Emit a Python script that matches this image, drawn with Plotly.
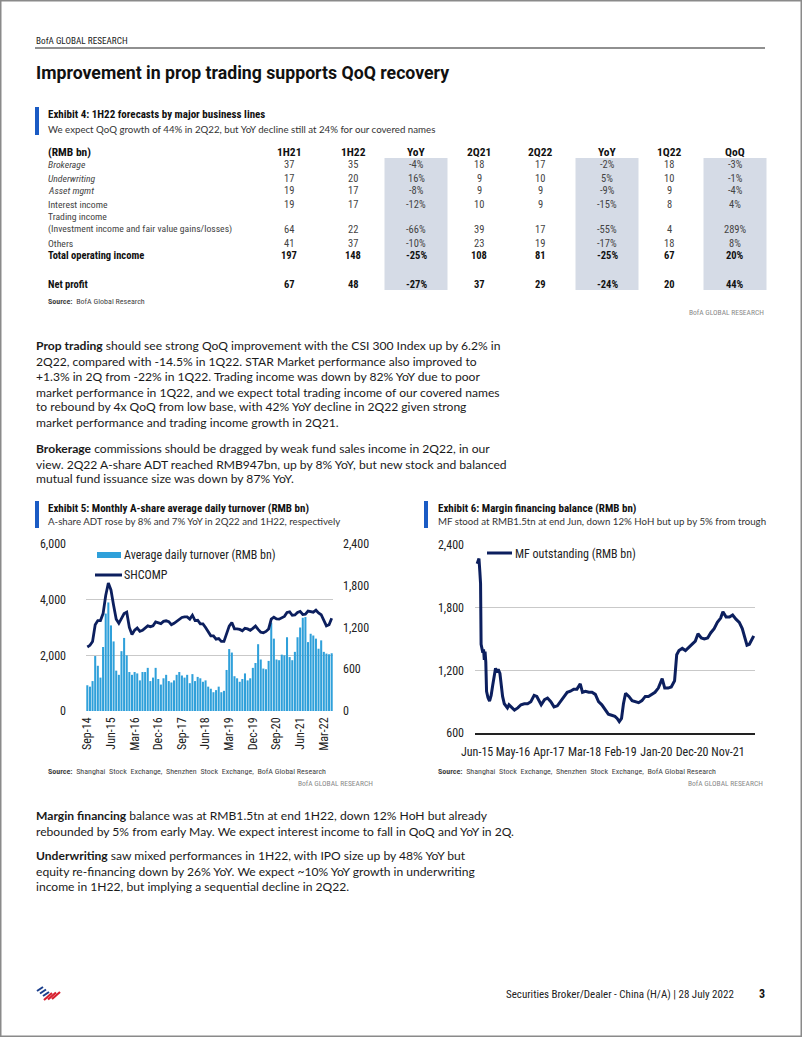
import plotly.graph_objects as go
import pandas as pd

W, H = 802, 1037

# ---------------- DATA ----------------
# Exhibit 4 table
row_labels = ["Brokerage", "Underwriting", "Asset mgmt", "Interest income", "Trading income",
              "(Investment income and fair value gains/losses)", "Others",
              "Total operating income", "Net profit"]
col_headers = ["1H21", "1H22", "YoY", "2Q21", "2Q22", "YoY", "1Q22", "QoQ"]
h1_21 = ["37", "17", "19", "19", "", "64", "41", "197", "67"]
h1_22 = ["35", "20", "17", "17", "", "22", "37", "148", "48"]
yoy_h = ["-4%", "16%", "-8%", "-12%", "", "-66%", "-10%", "-25%", "-27%"]
q2_21 = ["18", "9", "9", "10", "", "39", "23", "108", "37"]
q2_22 = ["17", "10", "9", "9", "", "17", "19", "81", "29"]
yoy_q = ["-2%", "5%", "-9%", "-15%", "", "-55%", "-17%", "-25%", "-24%"]
q1_22 = ["18", "10", "9", "8", "", "4", "18", "67", "20"]
qoq = ["-3%", "-1%", "-4%", "4%", "", "289%", "8%", "20%", "44%"]

# Exhibit 5: monthly A-share ADT (RMB bn, right axis) and SHCOMP (left axis), Sep-14 .. Jun-22
months = list(pd.date_range("2014-09-01", periods=94, freq="MS").strftime("%b-%y"))
adt = [370, 350, 430, 790, 650, 480, 920, 1400, 1560, 1230,
       1000, 580, 520, 860, 1050, 800, 560, 520, 560, 540,
       440, 560, 560, 620, 430, 480, 620, 460, 380, 470,
       520, 430, 410, 440, 520, 560, 510, 480, 520, 400,
       530, 430, 490, 470, 420, 440, 350, 320, 270, 300,
       350, 270, 290, 590, 890, 840, 500, 470, 420, 460,
       540, 440, 470, 620, 690, 960, 740, 610, 600, 720,
       1270, 1040, 740, 730, 810, 800, 1060, 775, 730, 850,
       1060, 1200, 1340, 1350, 990, 1110, 1085, 1040, 895, 1015,
       850, 825, 815, 830]
shcomp = [2300, 2360, 2500, 3100, 3250, 3250, 3500, 4150, 4600, 4350,
          3800, 3300, 3150, 3300, 3500, 3550, 3000, 2750, 2900, 2980,
          2860, 2900, 2990, 3060, 3030, 3060, 3200, 3180, 3140, 3220,
          3240, 3210, 3100, 3150, 3230, 3280, 3360, 3380, 3380, 3300,
          3440, 3250, 3260, 3130, 3130, 3000, 2830, 2700, 2700, 2580,
          2600, 2500, 2500, 2740, 3050, 3180, 2950, 2950, 2930, 2880,
          2970, 2950, 2900, 2970, 3050, 2930, 2830, 2810, 2860, 2950,
          3300, 3370, 3310, 3300, 3360, 3400, 3540, 3560, 3440, 3450,
          3540, 3580, 3470, 3480, 3590, 3560, 3550, 3620, 3520, 3460,
          3250, 3060, 3100, 3330]

# Exhibit 6: margin financing outstanding (RMB bn)
mf_dates = ["2015-06-01", "2015-06-18", "2015-06-26", "2015-07-03", "2015-07-08", "2015-07-15",
            "2015-07-24", "2015-07-31", "2015-08-07", "2015-08-14", "2015-08-21", "2015-08-28",
            "2015-09-10", "2015-09-25", "2015-10-10", "2015-10-25", "2015-11-10", "2015-11-20",
            "2015-12-01", "2015-12-15", "2015-12-31", "2016-01-10", "2016-01-25", "2016-02-10",
            "2016-02-25", "2016-03-10", "2016-03-25", "2016-04-15", "2016-05-15", "2016-06-15",
            "2016-07-15", "2016-08-15", "2016-09-15", "2016-10-15", "2016-11-15", "2016-12-10",
            "2016-12-31", "2017-01-20", "2017-02-20", "2017-03-20", "2017-04-20", "2017-05-20",
            "2017-06-20", "2017-07-20", "2017-08-20", "2017-09-20", "2017-10-20", "2017-11-20",
            "2017-12-20", "2018-01-20", "2018-02-10", "2018-03-10", "2018-04-10", "2018-05-10",
            "2018-06-10", "2018-07-10", "2018-08-10", "2018-09-10", "2018-10-10", "2018-11-10",
            "2018-12-10", "2018-12-31", "2019-01-20", "2019-02-10", "2019-02-28", "2019-03-20",
            "2019-04-20", "2019-05-20", "2019-06-20", "2019-07-20", "2019-08-20", "2019-09-20",
            "2019-10-20", "2019-11-20", "2019-12-20", "2020-01-20", "2020-02-25", "2020-03-20",
            "2020-04-20", "2020-05-20", "2020-06-20", "2020-07-10", "2020-07-31", "2020-08-31",
            "2020-09-30", "2020-10-31", "2020-11-30", "2020-12-31", "2021-01-25", "2021-02-25",
            "2021-03-25", "2021-04-25", "2021-05-25", "2021-06-25", "2021-07-25", "2021-08-25",
            "2021-09-15", "2021-10-15", "2021-11-15", "2021-12-15", "2022-01-15", "2022-02-15",
            "2022-03-15", "2022-04-15", "2022-04-28", "2022-05-20", "2022-06-15", "2022-06-30"]
mf_values = [2220, 2270, 2150, 2030, 1450, 1420,
             1370, 1400, 1300, 1380, 1280, 1000,
             940, 905, 960, 1060, 1180, 1220,
             1180, 1210, 1170, 1060, 950, 880,
             860, 840, 870, 850, 820, 840,
             870, 880, 880, 900, 960, 950,
             900, 870, 920, 935, 900, 850,
             860, 900, 950, 990, 1000, 1020,
             1020, 1070, 990, 1000, 990, 990,
             970, 900, 870, 830, 780, 770,
             760, 740, 710, 740, 880, 980,
             950, 910, 900, 890, 910, 950,
             950, 970, 990, 1030, 1120, 1030,
             1030, 1040, 1100, 1350, 1390, 1410,
             1390, 1420, 1450, 1480, 1550, 1510,
             1500, 1510, 1560, 1600, 1660, 1700,
             1760, 1710, 1710, 1730, 1690, 1660,
             1600, 1500, 1440, 1450, 1500, 1530]
mf_ticks = ["2015-06-01", "2016-05-01", "2017-04-01", "2018-03-01",
            "2019-02-01", "2020-01-01", "2020-12-01", "2021-11-01"]
mf_ticktext = ["Jun-15", "May-16", "Apr-17", "Mar-18", "Feb-19", "Jan-20", "Dec-20", "Nov-21"]

# ---------------- STYLE HELPERS ----------------
NARROW = "'Liberation Sans Narrow', 'Arial Narrow', 'Roboto Condensed', Roboto, sans-serif"
BODY = "Lato, 'Open Sans', sans-serif"
TITLEF = "Roboto, sans-serif"
BLUE = "#1a5bc4"
NAVY = "#0c1f5e"
BARC = "#2fa0da"
GRID = "#c9c9c9"


def px(x):
    return x / W


def py(y):
    return 1 - y / H


annotations = []
shapes = []


def text(x, y, s, size, color="#222", family=BODY, anchor="left"):
    annotations.append(dict(x=px(x), y=py(y), xref="paper", yref="paper", text=s,
                            showarrow=False, xanchor=anchor, yanchor="middle",
                            borderpad=0, font=dict(size=size, color=color, family=family)))


def rect(x0, y0, x1, y1, color):
    shapes.append(dict(type="rect", xref="paper", yref="paper", x0=px(x0), x1=px(x1),
                       y0=py(y1), y1=py(y0), fillcolor=color, line=dict(width=0), layer="below"))


def hline(x0, x1, y, color, width):
    shapes.append(dict(type="line", xref="paper", yref="paper", x0=px(x0), x1=px(x1),
                       y0=py(y), y1=py(y), line=dict(color=color, width=width)))


def seg(x0, y0, x1, y1, color, width):
    shapes.append(dict(type="line", xref="paper", yref="paper", x0=px(x0), x1=px(x1),
                       y0=py(y0), y1=py(y1), line=dict(color=color, width=width)))


# ---------------- PAGE HEADER ----------------
text(35, 41, "BofA GLOBAL RESEARCH", 9.2, "#222", NARROW)
hline(35, 765, 48, "#222", 1.2)
text(35, 73, "<b>Improvement in prop trading supports QoQ recovery</b>", 17.7, "#111", TITLEF)

# ---------------- EXHIBIT 4 TABLE ----------------
rect(35, 107, 39, 135, BLUE)
text(47, 115, "<b>Exhibit 4: 1H22 forecasts by major business lines</b>", 11, "#111", NARROW)
text(47, 129, "We expect QoQ growth of 44% in 2Q22, but YoY decline still at 24% for our covered names",
     9.7, "#333", BODY)

col_x = [289, 353, 416, 479, 540, 607, 669, 735]
band_cols = [2, 5, 7]
for c in band_cols:
    rect(col_x[c] - 31.5, 158, col_x[c] + 31.5, 290, "#d5dbe6")

header_y = 152
text(47, header_y, "<b>(RMB bn)</b>", 11.5, "#111", NARROW)
for cx, h in zip(col_x, col_headers):
    text(cx, header_y, "<b>" + h + "</b>", 11.5, "#111", NARROW, "center")

row_y = [165, 178, 190, 204, 217, 229, 243, 256, 284]
columns = [h1_21, h1_22, yoy_h, q2_21, q2_22, yoy_q, q1_22, qoq]
for i, lab in enumerate(row_labels):
    bold = i >= 7
    italic = i <= 2
    col = "#111" if bold else "#444"
    s = lab
    if italic:
        s = "<i>" + s + "</i>"
    if bold:
        s = "<b>" + s + "</b>"
    text(47, row_y[i], s, 10.5 if bold else 9.7, col, NARROW)
    for cx, colvals in zip(col_x, columns):
        v = colvals[i]
        if v == "":
            continue
        vs = "<b>" + v + "</b>" if bold else v
        text(cx, row_y[i], vs, 10.5, col, NARROW, "center")

text(47, 301, "<b>Source:</b>  BofA Global Research", 8, "#444", NARROW)
text(765, 312, "BofA GLOBAL RESEARCH", 7.5, "#8a8a8a", NARROW, "right")

# ---------------- BODY PARAGRAPHS ----------------
p1 = ["<b>Prop trading</b> should see strong QoQ improvement with the CSI 300 Index up by 6.2% in",
      "2Q22, compared with -14.5% in 1Q22. STAR Market performance also improved to",
      "+1.3% in 2Q from -22% in 1Q22. Trading income was down by 82% YoY due to poor",
      "market performance in 1Q22, and we expect total trading income of our covered names",
      "to rebound by 4x QoQ from low base, with 42% YoY decline in 2Q22 given strong",
      "market performance and trading income growth in 2Q21."]
p1_y = [345, 361, 376, 392, 407, 423]
p2 = ["<b>Brokerage</b> commissions should be dragged by weak fund sales income in 2Q22, in our",
      "view. 2Q22 A-share ADT reached RMB947bn, up by 8% YoY, but new stock and balanced",
      "mutual fund issuance size was down by 87% YoY."]
p2_y = [448, 464, 479]
p3 = ["<b>Margin financing</b> balance was at RMB1.5tn at end 1H22, down 12% HoH but already",
      "rebounded by 5% from early May. We expect interest income to fall in QoQ and YoY in 2Q."]
p3_y = [815, 831]
p4 = ["<b>Underwriting</b> saw mixed performances in 1H22, with IPO size up by 48% YoY but",
      "equity re-financing down by 26% YoY. We expect ~10% YoY growth in underwriting",
      "income in 1H22, but implying a sequential decline in 2Q22."]
p4_y = [855, 871, 886]
for lines, ys in [(p1, p1_y), (p2, p2_y), (p3, p3_y), (p4, p4_y)]:
    for s, y in zip(lines, ys):
        text(35, y, s, 12.1, "#1a1a1a", BODY)

# ---------------- EXHIBIT 5 / 6 HEADERS ----------------
rect(35, 501, 39, 528, BLUE)
text(47, 508, "<b>Exhibit 5: Monthly A-share average daily turnover (RMB bn)</b>", 11, "#111", NARROW)
text(47, 521, "A-share ADT rose by 8% and 7% YoY in 2Q22 and 1H22, respectively", 9.7, "#333", BODY)

rect(424, 501, 428, 528, BLUE)
text(437, 508, "<b>Exhibit 6: Margin financing balance (RMB bn)</b>", 11, "#111", NARROW)
text(437, 521, "MF stood at RMB1.5tn at end Jun, down 12% HoH but up by 5% from trough", 9.7, "#333", BODY)

# legends (manual swatches)
rect(97, 552, 121, 558, BARC)
text(123, 555, "Average daily turnover (RMB bn)", 12, "#222", NARROW)
seg(95, 575, 122, 575, NAVY, 3)
text(123, 575, "SHCOMP", 12, "#222", NARROW)

seg(487, 553, 512, 553, NAVY, 3)
text(514, 554, "MF outstanding (RMB bn)", 12, "#222", NARROW)

# sources
src = "<b>Source:</b>  Shanghai  Stock  Exchange,  Shenzhen  Stock  Exchange,  BofA Global Research"
text(47, 771, src, 8, "#444", NARROW)
text(374, 783, "BofA GLOBAL RESEARCH", 7.5, "#8a8a8a", NARROW, "right")
text(437, 771, src, 8, "#444", NARROW)
text(764, 783, "BofA GLOBAL RESEARCH", 7.5, "#8a8a8a", NARROW, "right")

# ---------------- FOOTER ----------------
text(735, 994, "Securities Broker/Dealer - China (H/A) | 28 July 2022", 11, "#222", NARROW, "right")
text(762, 994, "<b>3</b>", 12, "#111", NARROW, "center")
# logo (stylised flag)
for k in range(3):
    seg(37 + k * 3, 991 + k * 2.5, 43 + k * 3, 987 + k * 2.5, "#1a3e8c", 2)
for k in range(3):
    seg(44 + k * 4, 1000 - k * 0.5, 52 + k * 4, 993 - k * 0.5, "#d8202f", 2.2)

# page border
shapes.append(dict(type="rect", xref="paper", yref="paper", x0=0, x1=1, y0=0, y1=1,
                   line=dict(color="#8a8a8a", width=3), layer="above"))

# ---------------- FIGURE ----------------
fig = go.Figure()
fig.add_trace(go.Bar(x=months, y=adt, name="Average daily turnover (RMB bn)",
                     marker=dict(color=BARC, line=dict(width=0)), xaxis="x", yaxis="y",
                     showlegend=False))
fig.add_trace(go.Scatter(x=months, y=shcomp, name="SHCOMP", mode="lines",
                         line=dict(color=NAVY, width=2.8), xaxis="x", yaxis="y2",
                         showlegend=False))
fig.add_trace(go.Scatter(x=mf_dates, y=mf_values, name="MF outstanding (RMB bn)", mode="lines",
                         line=dict(color=NAVY, width=3), xaxis="x3", yaxis="y3",
                         showlegend=False))

tickf = dict(family=NARROW, size=12, color="#222")
fig.update_layout(
    width=W, height=H, margin=dict(l=0, r=0, t=0, b=0, autoexpand=False),
    paper_bgcolor="white", plot_bgcolor="rgba(0,0,0,0)",
    bargap=0.22, showlegend=False,
    annotations=annotations, shapes=shapes,
    xaxis=dict(domain=[px(86), px(333)], anchor="y", type="category", automargin=False,
               range=[-0.5, 93.5], tickmode="array", tickvals=months[::9],
               ticktext=months[::9], tickangle=-90, tickfont=tickf, showgrid=False,
               zeroline=False, showline=False, ticks="", ticklabelstandoff=3),
    yaxis=dict(domain=[py(711), py(544)], anchor="x", side="right", range=[0, 2400],
               automargin=False,
               tickmode="array", tickvals=[0, 600, 1200, 1800, 2400],
               ticktext=["0", "600", "1,200", "1,800", "2,400"], tickfont=tickf,
               showgrid=False, zeroline=False, showline=False, ticks="",
               ticklabelstandoff=9),
    yaxis2=dict(overlaying="y", anchor="x", side="left", range=[0, 6000], automargin=False,
                tickmode="array", tickvals=[0, 2000, 4000, 6000],
                ticktext=["0", "2,000", "4,000", "6,000"], tickfont=tickf,
                showgrid=True, gridcolor=GRID, gridwidth=1, zeroline=False,
                showline=False, ticks="", ticklabelstandoff=19),
    xaxis3=dict(domain=[px(475), px(755)], anchor="y3", type="date", automargin=False,
                range=["2015-05-12", "2022-07-12"], tickmode="array", tickvals=mf_ticks,
                ticktext=mf_ticktext, tickangle=0, tickfont=tickf, showgrid=False,
                zeroline=False, showline=True, linecolor="#222", linewidth=1.5,
                ticks="", ticklabelstandoff=7),
    yaxis3=dict(domain=[py(733), py(545)], anchor="x3", range=[600, 2400], automargin=False,
                tickmode="array", tickvals=[600, 1200, 1800, 2400],
                ticktext=["600", "1,200", "1,800", "2,400"], tickfont=tickf,
                showgrid=True, gridcolor=GRID, gridwidth=1, zeroline=False,
                showline=False, ticks="", ticklabelstandoff=10),
)

fig.write_html("out.html", config={"displayModeBar": False},
               post_script="document.body.style.margin='0';document.body.style.overflow='hidden';")
